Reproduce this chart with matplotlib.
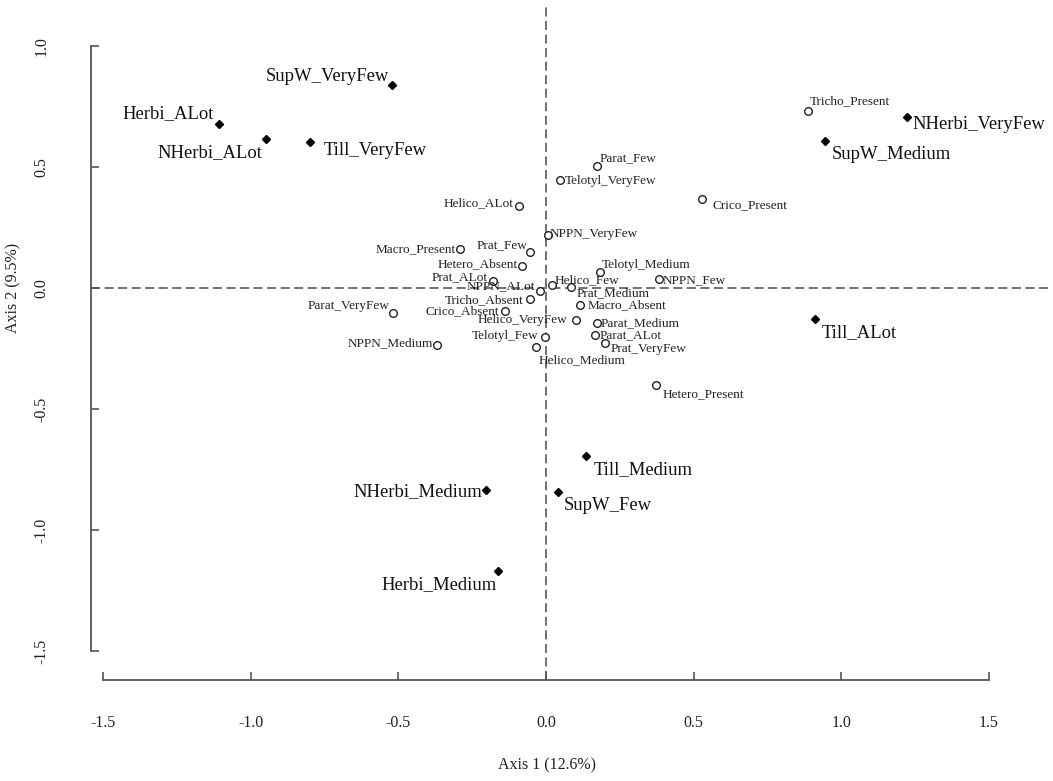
import matplotlib.pyplot as plt

plt.rcParams['font.family'] = ['Liberation Serif', 'DejaVu Serif']

# active categories (open circles)
cat_names = ["Macro_Present", "Prat_Few", "Hetero_Absent", "Prat_ALot", "NPPN_ALot",
             "Tricho_Absent", "Crico_Absent", "Parat_VeryFew", "Helico_VeryFew",
             "Telotyl_Few", "NPPN_Medium", "Helico_Medium", "NPPN_VeryFew",
             "Telotyl_Medium", "Helico_Few", "Prat_Medium", "NPPN_Few", "Macro_Absent",
             "Parat_Medium", "Parat_ALot", "Prat_VeryFew", "Hetero_Present",
             "Helico_ALot", "Parat_Few", "Telotyl_VeryFew", "Crico_Present",
             "Tricho_Present"]
cat_x = [-0.292, -0.053, -0.082, -0.180, -0.022, -0.053, -0.138, -0.517, 0.100,
         -0.005, -0.368, -0.033, 0.006, 0.183, 0.020, 0.083, 0.382, 0.116,
         0.173, 0.166, 0.199, 0.373, -0.090, 0.172, 0.046, 0.529, 0.888]
cat_y = [0.160, 0.149, 0.091, 0.029, -0.012, -0.045, -0.094, -0.104, -0.132,
         -0.201, -0.236, -0.246, 0.219, 0.067, 0.012, 0.005, 0.036, -0.070,
         -0.143, -0.194, -0.228, -0.403, 0.338, 0.503, 0.446, 0.366, 0.731]

# supplementary variables (filled diamonds)
sup_names = ["SupW_VeryFew", "Herbi_ALot", "NHerbi_ALot", "Till_VeryFew",
             "NHerbi_VeryFew", "SupW_Medium", "Till_ALot", "Till_Medium",
             "SupW_Few", "NHerbi_Medium", "Herbi_Medium"]
sup_x = [-0.520, -1.108, -0.947, -0.800, 1.222, 0.946, 0.911, 0.137, 0.042, -0.202, -0.161]
sup_y = [0.837, 0.679, 0.615, 0.604, 0.707, 0.608, -0.128, -0.696, -0.845, -0.836, -1.170]

x_ticks = [-1.5, -1.0, -0.5, 0.0, 0.5, 1.0, 1.5]
y_ticks = [-1.5, -1.0, -0.5, 0.0, 0.5, 1.0]

# label placement: (dx, dy) in pixels from the point to the text baseline, alignment
cat_offsets = [(-4, -3, 'right'), (-3, 4, 'right'), (-4, -1, 'right'), (-5, 1, 'right'),
               (-5, 2, 'right'), (-7, -4, 'right'), (-6, -3, 'right'), (-4, 4, 'right'),
               (-8, -3, 'right'), (-6, -2, 'right'), (-4, -1, 'right'), (2, -16, 'left'),
               (2, -2, 'left'), (2, 4, 'left'), (3, 2, 'left'), (6, -9, 'left'),
               (4, -4, 'left'), (7, -3, 'left'), (4, -4, 'left'), (5, -3, 'left'),
               (6, -9, 'left'), (6, -12, 'left'), (-6, 0, 'right'), (3, 5, 'left'),
               (5, -4, 'left'), (10, -9, 'left'), (2, 7, 'left')]
sup_offsets = [(-3, 4, 'right'), (-5, 6, 'right'), (-4, -18, 'right'), (14, -13, 'left'),
               (6, -12, 'left'), (6, -18, 'left'), (7, -18, 'left'), (7, -18, 'left'),
               (5, -18, 'left'), (-4, -6, 'right'), (-2, -18, 'right')]

fig = plt.figure(figsize=(10.53, 7.81), dpi=100)
ax = fig.add_axes([91 / 1053, 101 / 781, 957 / 1053, 673 / 781])
ax.set_xlim(-1.541, 1.700)
ax.set_ylim(-1.620, 1.161)

ax.axhline(0, color='#666666', lw=1.3, dashes=(5, 2.5), zorder=1)
ax.axvline(0, color='#666666', lw=1.3, dashes=(5, 2.5), zorder=1)

ax.plot(cat_x, cat_y, 'o', ms=5.5, mfc='white', mec='#222222', mew=1.0, zorder=3)
ax.plot(sup_x, sup_y, 'D', ms=4.2, color='black', zorder=3)

for name, x, y, (dx, dy, ha) in zip(cat_names, cat_x, cat_y, cat_offsets):
    ax.annotate(name, (x, y), xytext=(dx, dy), textcoords='offset pixels',
                ha=ha, va='baseline', fontsize=9.5, color='#222222')
for name, x, y, (dx, dy, ha) in zip(sup_names, sup_x, sup_y, sup_offsets):
    ax.annotate(name, (x, y), xytext=(dx, dy), textcoords='offset pixels',
                ha=ha, va='baseline', fontsize=13.4, color='#111111')

for side in ['top', 'right']:
    ax.spines[side].set_visible(False)
ax.spines['left'].set_bounds(-1.5, 1.0)
ax.spines['bottom'].set_bounds(-1.5, 1.5)
for side in ['left', 'bottom']:
    ax.spines[side].set_color('#555555')
    ax.spines[side].set_linewidth(1.3)

ax.set_xticks(x_ticks)
ax.set_yticks(y_ticks)
ax.set_xticklabels([f"{t:.1f}" for t in x_ticks])
ax.set_yticklabels([f"{t:.1f}" for t in y_ticks], rotation=90, va='center')
ax.tick_params(axis='x', direction='in', length=6, width=1.2, color='#555555',
               pad=25, labelsize=11.5, labelcolor='#222222')
ax.tick_params(axis='y', direction='in', length=6, width=1.2, color='#555555',
               pad=30, labelsize=11.5, labelcolor='#222222')

fig.text(546.5 / 1053, 1 - 765 / 781, "Axis 1 (12.6%)", ha='center', va='center',
         fontsize=11.5, color='#222222')
fig.text(13 / 1053, 1 - 288 / 781, "Axis 2 (9.5%)", ha='center', va='center',
         rotation=90, fontsize=11.5, color='#222222')

fig.savefig("out.png", dpi=100)
